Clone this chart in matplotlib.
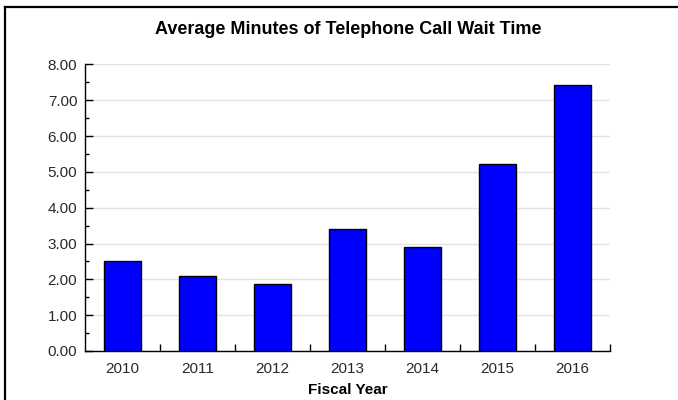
import matplotlib
matplotlib.use("Agg")
import matplotlib.pyplot as plt
from matplotlib.lines import Line2D
from matplotlib.ticker import MultipleLocator, FormatStrFormatter

years = ["2010", "2011", "2012", "2013", "2014", "2015", "2016"]
wait_minutes = [2.50, 2.10, 1.88, 3.42, 2.91, 5.21, 7.42]

plt.rcParams['font.family'] = ['Liberation Sans', 'DejaVu Sans']

fig = plt.figure(figsize=(6.78, 4.0), dpi=100)
W, H = 678, 400
ax = fig.add_axes([85 / W, 1 - 351 / H, 525 / W, 286.5 / H])

x = range(len(years))
ax.bar(x, wait_minutes, width=0.5, color="#0000ff", edgecolor="black", linewidth=1, zorder=3)

ax.set_xlim(-0.5, len(years) - 0.5)
ax.set_ylim(0, 8)
ax.set_xticks(list(x))
ax.set_xticklabels(years)
ax.set_xticks([i + 0.5 for i in x], minor=True)
ax.yaxis.set_major_locator(MultipleLocator(1))
ax.yaxis.set_minor_locator(MultipleLocator(0.5))
ax.yaxis.set_major_formatter(FormatStrFormatter("%.2f"))

ax.tick_params(axis="x", which="major", length=0, pad=8, labelsize=11, labelcolor="#2a2a2a")
ax.tick_params(axis="x", which="minor", direction="in", length=5, width=1)
ax.tick_params(axis="y", which="major", direction="in", length=6, width=1, pad=5.5,
               labelsize=11, labelcolor="#2a2a2a")
ax.tick_params(axis="y", which="minor", direction="in", length=3, width=1)

ax.grid(axis="y", color="#e3e3e3", linewidth=1, zorder=0)
ax.set_axisbelow(True)
for s in ("top", "right"):
    ax.spines[s].set_visible(False)
for s in ("left", "bottom"):
    ax.spines[s].set_linewidth(1)

ax.set_xlabel("Fiscal Year", fontsize=11, fontweight="bold", labelpad=5)
fig.text(348 / W, 1 - 30 / H, "Average Minutes of Telephone Call Wait Time",
         ha="center", va="center", fontsize=13, fontweight="bold")

# outer frame (top and left edges only)
fig.add_artist(Line2D([5 / W, 1], [1 - 7 / H, 1 - 7 / H], color="black", linewidth=1.6,
                      transform=fig.transFigure))
fig.add_artist(Line2D([5 / W, 5 / W], [1 - 7 / H, 0], color="black", linewidth=1.6,
                      transform=fig.transFigure))

fig.savefig("out.png", dpi=100)
